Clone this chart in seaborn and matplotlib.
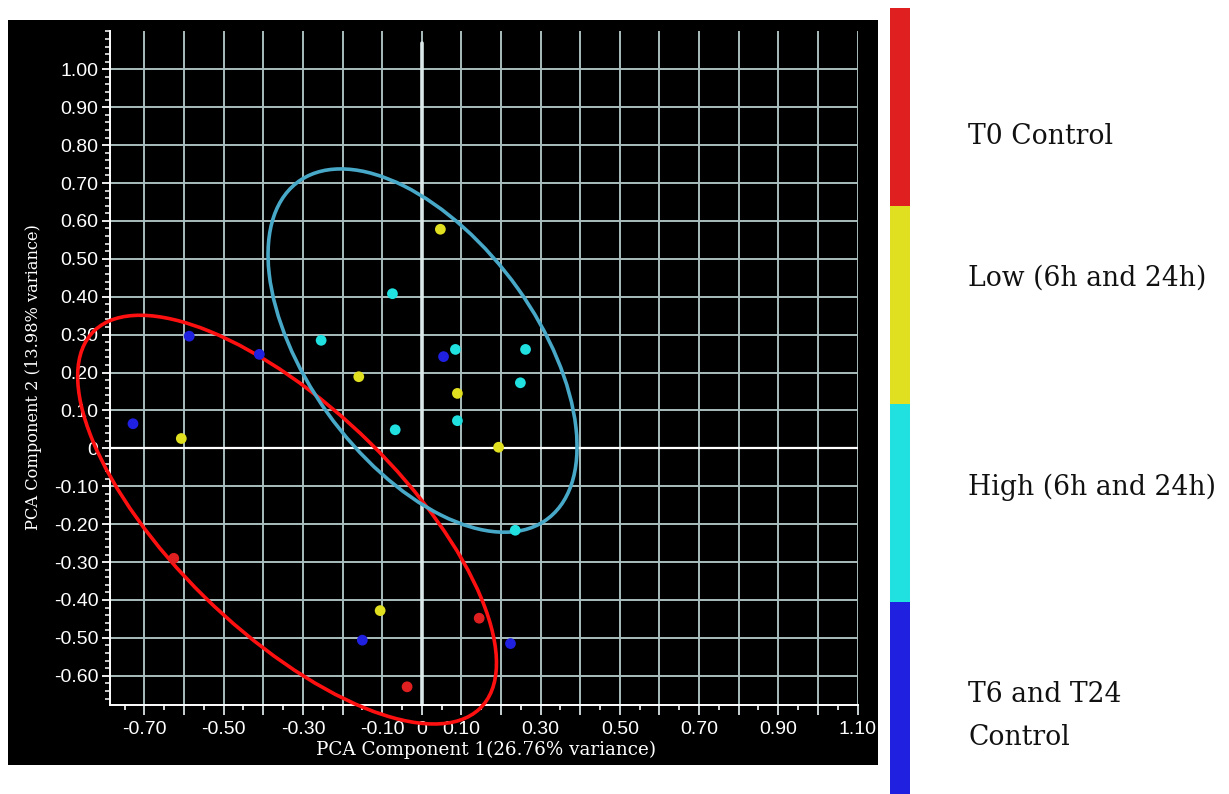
import numpy as np
import pandas as pd
import matplotlib
matplotlib.use("Agg")
import matplotlib.pyplot as plt
import seaborn as sns
from matplotlib.patches import Ellipse, Rectangle
from matplotlib.ticker import MultipleLocator, FixedLocator, FuncFormatter

# ---------------- data ----------------
groups = ["T0 Control", "Low (6h and 24h)", "High (6h and 24h)", "T6 and T24\nControl"]
group_colors = ["#e02020", "#e0e020", "#20e0e0", "#2020e0"]

t0_x = [-0.626, -0.037, 0.145]
t0_y = [-0.290, -0.629, -0.448]
low_x = [0.047, -0.159, -0.607, 0.090, 0.194, -0.105]
low_y = [0.578, 0.189, 0.026, 0.145, 0.003, -0.428]
high_x = [-0.074, -0.254, 0.085, 0.262, 0.249, -0.067, 0.090, 0.236]
high_y = [0.408, 0.285, 0.261, 0.261, 0.173, 0.049, 0.073, -0.216]
ctrl_x = [-0.587, -0.410, -0.729, 0.055, -0.150, 0.224]
ctrl_y = [0.296, 0.248, 0.065, 0.242, -0.506, -0.515]

ellipse_cx = [-0.340, 0.002]
ellipse_cy = [-0.188, 0.258]
ellipse_w = [1.393, 1.090]
ellipse_h = [0.583, 0.582]
ellipse_angle = [-45.8, -55.7]
ellipse_color = ["#ff1010", "#48a8c8"]

x_ticks = np.round(np.arange(-0.7, 1.101, 0.1), 2)
y_ticks = np.round(np.arange(-0.6, 1.001, 0.1), 2)

xs = [t0_x, low_x, high_x, ctrl_x]
ys = [t0_y, low_y, high_y, ctrl_y]
df = pd.DataFrame({
    "PC1": np.concatenate(xs),
    "PC2": np.concatenate(ys),
    "group": np.concatenate([[g] * len(x) for g, x in zip(groups, xs)]),
})

# ---------------- figure ----------------
sns.set_style("dark")
plt.rcParams["font.family"] = ["DejaVu Sans"]

fig = plt.figure(figsize=(12.29, 7.94), dpi=100)
fig.patch.set_facecolor("white")
fig.add_artist(Rectangle((8 / 1229, 1 - 765 / 794), 870 / 1229, 745 / 794,
                         transform=fig.transFigure, facecolor="black",
                         edgecolor="none", zorder=-10))

ax = fig.add_axes([110 / 1229, 1 - 705 / 794, 747.5 / 1229, 674 / 794])
ax.set_facecolor("black")
ax.set_xlim(-0.787, 1.10)
ax.set_ylim(-0.677, 1.101)

grid_c = "#a9bebe"
ax.xaxis.set_major_locator(FixedLocator(x_ticks))
ax.xaxis.set_minor_locator(MultipleLocator(0.05))
ax.yaxis.set_major_locator(FixedLocator(y_ticks))
ax.yaxis.set_minor_locator(MultipleLocator(0.02))


def xfmt(v, pos):
    k = int(round(v * 10))
    if k == 0:
        return "0"
    if k % 2 != 0:
        return f"{v:.2f}"
    return ""


def yfmt(v, pos):
    return "0" if abs(v) < 1e-9 else f"{v:.2f}"


ax.xaxis.set_major_formatter(FuncFormatter(xfmt))
ax.yaxis.set_major_formatter(FuncFormatter(yfmt))
ax.grid(True, which="major", color=grid_c, lw=1.4, zorder=0)
ax.set_axisbelow(True)

ax.tick_params(axis="x", which="major", direction="out", length=7.2, width=1.3,
               color="#d8e2e2", pad=4.5, labelsize=14, labelcolor="white",
               bottom=True)
ax.tick_params(axis="x", which="minor", direction="out", length=3.6, width=1.2,
               color="white", bottom=True)
ax.tick_params(axis="y", which="major", direction="out", length=5.8, width=1.3,
               color="white", pad=2.5, labelsize=14, labelcolor="white", left=True)
ax.tick_params(axis="y", which="minor", direction="out", length=3.6, width=1.1,
               color="white", left=True)
for lab in ax.get_xticklabels() + ax.get_yticklabels():
    lab.set_family("Liberation Sans")

for side in ["top", "right"]:
    ax.spines[side].set_visible(False)
for side in ["left", "bottom"]:
    ax.spines[side].set_color("white")
    ax.spines[side].set_linewidth(1.4)

ax.axhline(0, color="white", lw=1.6, zorder=1)
ax.axvline(0, ymin=0, ymax=(1.07 + 0.677) / (1.101 + 0.677),
           color="#dbe8e8", lw=2.6, zorder=1)

for cx, cy, w, h, a, c in zip(ellipse_cx, ellipse_cy, ellipse_w, ellipse_h,
                              ellipse_angle, ellipse_color):
    e = Ellipse((cx, cy), w, h, angle=a, fill=False, edgecolor=c, lw=2.6,
                clip_on=False, zorder=3)
    ax.add_patch(e)

sns.scatterplot(data=df, x="PC1", y="PC2", hue="group", hue_order=groups,
                palette=group_colors, s=60, edgecolor="none", legend=False,
                ax=ax, zorder=4)

ax.set_xlabel("PCA Component 1(26.76% variance)", family="DejaVu Serif",
              fontsize=13.2, color="white", va="center")
ax.xaxis.set_label_coords(0.503, -0.0668)
ax.set_ylabel("PCA Component 2 (13.98% variance)", family="DejaVu Serif",
              fontsize=11.7, color="white", va="center")
ax.yaxis.set_label_coords(-0.103, 0.4866)

# ---------------- legend strip ----------------
lax = fig.add_axes([890 / 1229, 1 - 800 / 794, 20 / 1229, 792 / 794])
lax.bar([0] * 4, [1] * 4, bottom=[3, 2, 1, 0], width=1.0,
        color=group_colors, edgecolor="none")
lax.set_xlim(-0.5, 0.5)
lax.set_ylim(0, 4)
lax.axis("off")

label_y = [136, 278, 487, 716]
for g, yy in zip(groups, label_y):
    fig.text(968 / 1229, 1 - yy / 794, g, family="DejaVu Serif", fontsize=19.2,
             color="#111111", va="center", ha="left", linespacing=1.72)

fig.savefig("out.png", dpi=100, facecolor="white")
